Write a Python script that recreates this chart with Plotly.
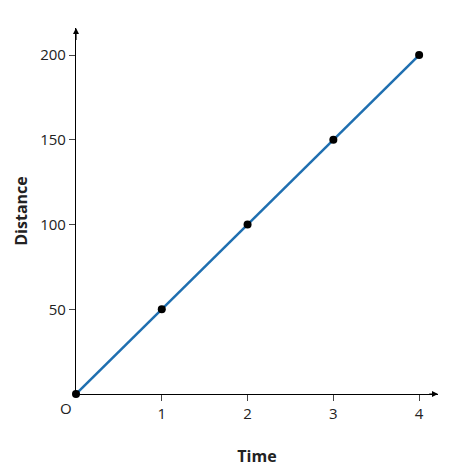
import plotly.graph_objects as go

time = [0, 1, 2, 3, 4]
distance = [0, 50, 100, 150, 200]
xticks = [1, 2, 3, 4]
yticks = [50, 100, 150, 200]

fig = go.Figure()
fig.add_trace(go.Scatter(x=time, y=distance, mode="lines", line=dict(color="#1f6fb0", width=2.5),
                         hoverinfo="skip", cliponaxis=False))
fig.add_trace(go.Scatter(x=time, y=distance, mode="markers", marker=dict(color="black", size=8),
                         cliponaxis=False))

fig.update_layout(
    width=474, height=474, showlegend=False,
    plot_bgcolor="white", paper_bgcolor="white",
    margin=dict(l=68, r=44, t=20, b=88),
    font=dict(family="Open Sans, sans-serif", size=15, color="#222"),
    xaxis=dict(range=[0, 4.22], tickvals=xticks, ticks="outside", ticklen=6, showgrid=False,
               zeroline=False, showline=True, linecolor="black", linewidth=1.2, automargin=False,
               title=dict(text="<b>Time</b>", font=dict(size=16), standoff=28)),
    yaxis=dict(range=[0, 216], tickvals=yticks, ticks="outside", ticklen=6, showgrid=False,
               zeroline=False, showline=True, linecolor="black", linewidth=1.2, automargin=False,
               title=dict(text="<b>Distance</b>", font=dict(size=16), standoff=8)),
)
fig.add_annotation(x=0, y=0, text="O", showarrow=False, xanchor="right", yanchor="top", xshift=-2, yshift=-2)
fig.add_annotation(x=4.22, y=0, ax=4.1, ay=0, axref="x", ayref="y", text="", showarrow=True,
                   arrowhead=2, arrowsize=1, arrowwidth=1.2, arrowcolor="black")
fig.add_annotation(x=0, y=216, ax=0, ay=208, axref="x", ayref="y", text="", showarrow=True,
                   arrowhead=2, arrowsize=1, arrowwidth=1.2, arrowcolor="black")
fig.write_html("out.html")
